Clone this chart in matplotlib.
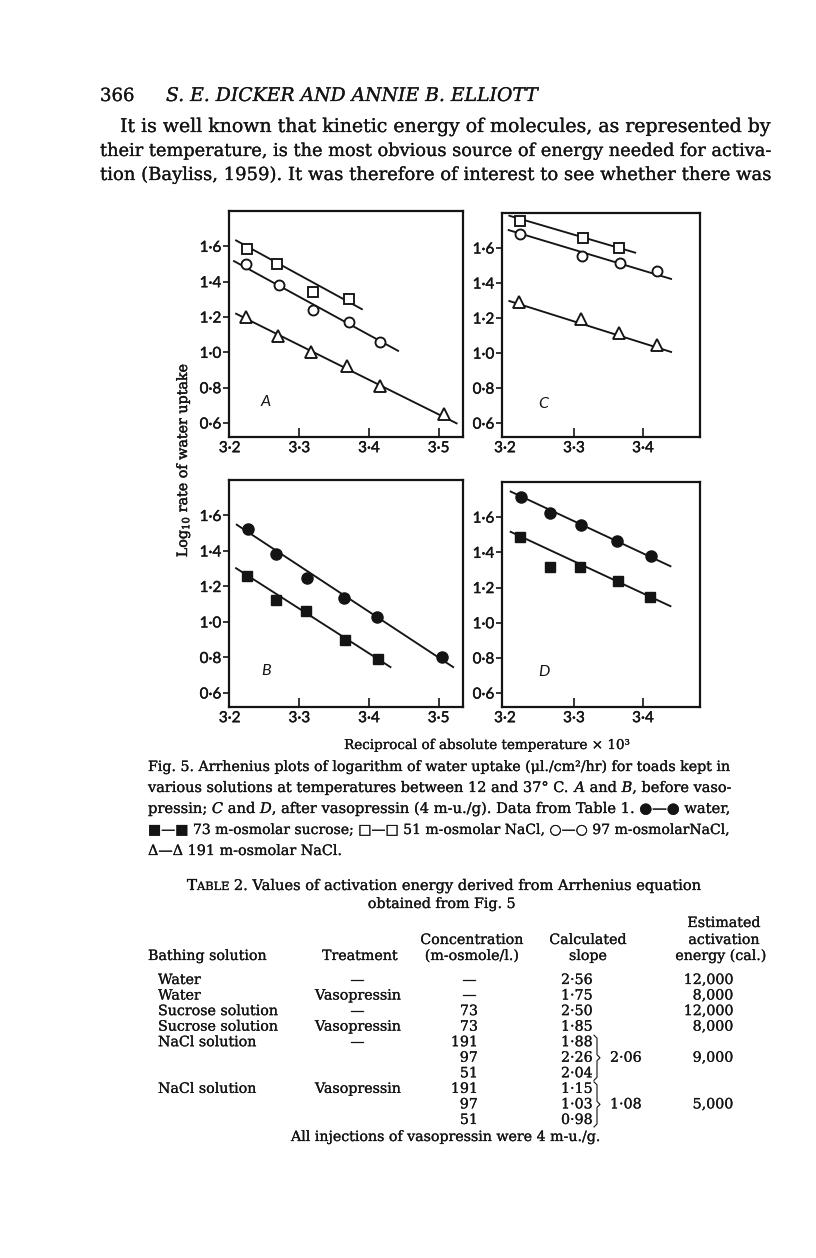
import matplotlib
matplotlib.use('Agg')
import matplotlib.pyplot as plt
import matplotlib.patheffects as pe
from matplotlib.ticker import FixedLocator, FixedFormatter
from matplotlib.lines import Line2D

W, H = 816, 1258
plt.rcParams['mathtext.fontset'] = 'custom'
plt.rcParams['mathtext.rm'] = 'DejaVu Serif'
plt.rcParams['mathtext.it'] = 'DejaVu Serif:italic'
SERIF = ['DejaVu Serif', 'DejaVu Sans']
SANS = ['Lato', 'DejaVu Sans']
INK = '#141414'
BOLDEN = [pe.withStroke(linewidth=0.18, foreground=INK)]
BOLDEN_T = [pe.withStroke(linewidth=0.3, foreground=INK)]

# ---------------- data ----------------
x_ticks_ab = [3.2, 3.3, 3.4, 3.5]
x_labels_ab = ['3·2', '3·3', '3·4', '3·5']
x_ticks_cd = [3.2, 3.3, 3.4]
x_labels_cd = ['3·2', '3·3', '3·4']
y_ticks = [0.6, 0.8, 1.0, 1.2, 1.4, 1.6]
y_labels = ['0·6', '0·8', '1·0', '1·2', '1·4', '1·6']

# Panel A (before vasopressin, NaCl)
a_nacl51_x = [3.225, 3.268, 3.319, 3.371]
a_nacl51_y = [1.585, 1.500, 1.344, 1.300]
a_nacl51_fit_x = [3.208, 3.391]
a_nacl51_fit_y = [1.636, 1.242]
a_nacl97_x = [3.224, 3.271, 3.319, 3.371, 3.416]
a_nacl97_y = [1.500, 1.383, 1.240, 1.170, 1.060]
a_nacl97_fit_x = [3.205, 3.443]
a_nacl97_fit_y = [1.519, 1.006]
a_nacl191_x = [3.224, 3.269, 3.317, 3.369, 3.416, 3.508]
a_nacl191_y = [1.200, 1.090, 1.000, 0.920, 0.810, 0.650]
a_nacl191_fit_x = [3.208, 3.527]
a_nacl191_fit_y = [1.221, 0.596]

# Panel C (after vasopressin, NaCl)
c_nacl51_x = [3.222, 3.313, 3.365]
c_nacl51_y = [1.757, 1.657, 1.600]
c_nacl51_fit_x = [3.205, 3.390]
c_nacl51_fit_y = [1.786, 1.572]
c_nacl97_x = [3.222, 3.312, 3.367, 3.421]
c_nacl97_y = [1.678, 1.556, 1.517, 1.467]
c_nacl97_fit_x = [3.204, 3.442]
c_nacl97_fit_y = [1.704, 1.422]
c_nacl191_x = [3.221, 3.310, 3.365, 3.421]
c_nacl191_y = [1.289, 1.194, 1.112, 1.044]
c_nacl191_fit_x = [3.205, 3.442]
c_nacl191_fit_y = [1.299, 1.005]

# Panel B (before vasopressin, water / sucrose)
b_water_x = [3.226, 3.267, 3.311, 3.364, 3.412, 3.505]
b_water_y = [1.525, 1.382, 1.250, 1.137, 1.029, 0.800]
b_water_fit_x = [3.209, 3.522]
b_water_fit_y = [1.551, 0.743]
b_sucr_x = [3.225, 3.267, 3.310, 3.365, 3.413]
b_sucr_y = [1.259, 1.124, 1.063, 0.901, 0.794]
b_sucr_fit_x = [3.208, 3.432]
b_sucr_fit_y = [1.306, 0.743]

# Panel D (after vasopressin, water / sucrose)
d_water_x = [3.223, 3.265, 3.310, 3.363, 3.412]
d_water_y = [1.713, 1.623, 1.553, 1.463, 1.379]
d_water_fit_x = [3.207, 3.441]
d_water_fit_y = [1.748, 1.319]
d_sucr_x = [3.222, 3.265, 3.308, 3.364, 3.410]
d_sucr_y = [1.487, 1.317, 1.317, 1.238, 1.148]
d_sucr_fit_x = [3.207, 3.441]
d_sucr_fit_y = [1.519, 1.092]

# Table 2
tab_bathing = ['Water', 'Water', 'Sucrose solution', 'Sucrose solution', 'NaCl solution',
               '', '', 'NaCl solution', '', '']
tab_treatment = ['—', 'Vasopressin', '—', 'Vasopressin', '—', '', '', 'Vasopressin', '', '']
tab_conc = ['—', '—', '73', '73', '191', '97', '51', '191', '97', '51']
tab_slope = ['2·56', '1·75', '2·50', '1·85', '1·88', '2·26', '2·04', '1·15', '1·03', '0·98']
tab_mean_slope = ['', '', '', '', '', '2·06', '', '', '1·08', '']
tab_energy = ['12,000', '8,000', '12,000', '8,000', '', '9,000', '', '', '5,000', '']

# ---------------- figure ----------------
fig = plt.figure(figsize=(W / 100, H / 100), dpi=100)
fig.patch.set_facecolor('white')
R = fig.canvas.get_renderer()


def fx(x):
    return x / W


def fy(y):
    return 1 - y / H


def width_of(s, size, style='normal', family=SERIF):
    t = fig.text(0, 0, s, fontsize=size, style=style, family=family)
    w = t.get_window_extent(renderer=R).width
    t.remove()
    return w


def line(x, ybase, segs, size, target_w=None, ha='left', family=SERIF):
    items = [(s.strip(), st, f, s.startswith(' '), s.endswith(' ')) for s, st, f in segs]

    def layout(sz):
        sp = width_of('n n', sz, family=family) - width_of('nn', sz, family=family)
        pos = []
        cx = 0.0
        for i, (s, st, f, lead, trail) in enumerate(items):
            if lead and i > 0:
                cx += sp
            pos.append(cx)
            cx += width_of(s, sz * f, st, family) if s else 0
            if trail:
                cx += sp
        return pos, cx

    pos, total = layout(size)
    if target_w is not None:
        size = size * target_w / total
        pos, total = layout(size)
    if ha == 'center':
        x0 = x - total / 2
    elif ha == 'right':
        x0 = x - total
    else:
        x0 = x
    for (s, st, f, _, _), p in zip(items, pos):
        if s:
            fig.text(fx(x0 + p), fy(ybase), s, fontsize=size * f, style=st, family=family,
                     va='baseline', ha='left', color=INK, path_effects=BOLDEN)
    return size


def simple(x0, x1, ybase, s, size=12, style='normal'):
    return line(x0, ybase, [(s, style, 1.0)], size, target_w=x1 - x0)


# ---- page header & paragraph ----
line(100, 101, [('366', 'normal', 1.0)], 13)
simple(166, 537, 101, 'S. E. DICKER AND ANNIE B. ELLIOTT', 13, 'italic')
para = ['It is well known that kinetic energy of molecules, as represented by',
        'their temperature, is the most obvious source of energy needed for activa-',
        'tion (Bayliss, 1959). It was therefore of interest to see whether there was']
para_x0 = [120, 100, 100]
for i, (s, x0) in enumerate(zip(para, para_x0)):
    simple(x0, 770, 132 + 24 * i, s, 13)

# ---- panels ----
def make_axes(l, t, r, b):
    return fig.add_axes([fx(l), fy(b), (r - l) / W, (b - t) / H])


OPEN = dict(mfc='white', mec=INK, mew=1.35, ls='none', zorder=3)
FILL = dict(mfc=INK, mec=INK, mew=1.0, ls='none', zorder=3)
LINE = dict(color=INK, lw=1.35, zorder=2, solid_capstyle='butt')


def style_axes(ax, xlim, xt, xl, letter, letter_xy):
    ax.set_xlim(*xlim)
    ax.set_ylim(0.521, 1.80)
    ax.xaxis.set_major_locator(FixedLocator(xt))
    ax.xaxis.set_major_formatter(FixedFormatter(xl))
    ax.yaxis.set_major_locator(FixedLocator(y_ticks))
    ax.yaxis.set_major_formatter(FixedFormatter(y_labels))
    ax.tick_params(axis='x', direction='in', length=6.5, width=1.2, pad=3.0,
                   labelsize=11, colors=INK)
    ax.tick_params(axis='y', direction='out', length=4.3, width=1.2, pad=1.2,
                   labelsize=11, colors=INK)
    for lab in ax.get_xticklabels() + ax.get_yticklabels():
        lab.set_family(SANS)
        lab.set_path_effects(BOLDEN_T)
    for sp in ax.spines.values():
        sp.set_linewidth(1.6)
        sp.set_color(INK)
    ax.xaxis.get_major_ticks()[0].tick1line.set_visible(False)
    ax.text(letter_xy[0], letter_xy[1], letter, style='italic', family=SANS,
            fontsize=11.5, ha='center', va='center', color=INK)


axA = make_axes(229, 211, 463, 437)
axA.plot(a_nacl51_fit_x, a_nacl51_fit_y, **LINE)
axA.plot(a_nacl97_fit_x, a_nacl97_fit_y, **LINE)
axA.plot(a_nacl191_fit_x, a_nacl191_fit_y, **LINE)
axA.plot(a_nacl51_x, a_nacl51_y, marker='s', ms=6.8, **OPEN)
axA.plot(a_nacl97_x, a_nacl97_y, marker='o', ms=7.2, **OPEN)
axA.plot(a_nacl191_x, a_nacl191_y, marker='^', ms=8.0, **OPEN)
style_axes(axA, (3.199, 3.535), x_ticks_ab, x_labels_ab, 'A', (3.251, 0.72))

axC = make_axes(502, 213, 700, 437)
axC.plot(c_nacl51_fit_x, c_nacl51_fit_y, **LINE)
axC.plot(c_nacl97_fit_x, c_nacl97_fit_y, **LINE)
axC.plot(c_nacl191_fit_x, c_nacl191_fit_y, **LINE)
axC.plot(c_nacl51_x, c_nacl51_y, marker='s', ms=6.8, **OPEN)
axC.plot(c_nacl97_x, c_nacl97_y, marker='o', ms=7.2, **OPEN)
axC.plot(c_nacl191_x, c_nacl191_y, marker='^', ms=8.0, **OPEN)
style_axes(axC, (3.1957, 3.4826), x_ticks_cd, x_labels_cd, 'C', (3.256, 0.711))

axB = make_axes(229, 480, 463, 707)
axB.plot(b_water_fit_x, b_water_fit_y, **LINE)
axB.plot(b_sucr_fit_x, b_sucr_fit_y, **LINE)
axB.plot(b_water_x, b_water_y, marker='o', ms=8.0, **FILL)
axB.plot(b_sucr_x, b_sucr_y, marker='s', ms=7.2, **FILL)
style_axes(axB, (3.199, 3.535), x_ticks_ab, x_labels_ab, 'B', (3.252, 0.722))

axD = make_axes(502, 482, 700, 707)
axD.plot(d_water_fit_x, d_water_fit_y, **LINE)
axD.plot(d_sucr_fit_x, d_sucr_fit_y, **LINE)
axD.plot(d_water_x, d_water_y, marker='o', ms=8.0, **FILL)
axD.plot(d_sucr_x, d_sucr_y, marker='s', ms=7.2, **FILL)
style_axes(axD, (3.1957, 3.4826), x_ticks_cd, x_labels_cd, 'D', (3.257, 0.722))

# shared axis labels
yl = fig.text(fx(183), fy(460), r'Log$_{10}$ rate of water uptake', rotation=90,
              ha='center', va='center', fontsize=11, family=SERIF, color=INK,
              path_effects=BOLDEN_T)
h = yl.get_window_extent(renderer=R).height
yl.set_fontsize(11 * 194 / h)
line(487, 749, [('Reciprocal of absolute temperature × 10³', 'normal', 1.0)], 11,
     target_w=285, ha='center')

# ---- caption ----
cap = [
    [('Fig. 5. Arrhenius plots of logarithm of water uptake (μl./cm²/hr) for toads kept in', 'normal', 1.0)],
    [('various solutions at temperatures between 12 and 37° C. ', 'normal', 1.0), ('A', 'italic', 1.0),
     (' and ', 'normal', 1.0), ('B', 'italic', 1.0), (', before vaso-', 'normal', 1.0)],
    [('pressin; ', 'normal', 1.0), ('C', 'italic', 1.0), (' and ', 'normal', 1.0), ('D', 'italic', 1.0),
     (', after vasopressin (4 m-u./g). Data from Table 1. ●—● water,', 'normal', 1.0)],
    [('■—■ 73 m-osmolar sucrose; □—□ 51 m-osmolar NaCl, ○—○ 97 m-osmolarNaCl,', 'normal', 1.0)],
]
sizes = []
for i, segs in enumerate(cap):
    sizes.append(line(148, 771 + 21 * i, segs, 10, target_w=731 - 148))
line(148, 771 + 21 * 4, [('Δ—Δ 191 m-osmolar NaCl.', 'normal', 1.0)], sum(sizes) / len(sizes))

# ---- table ----
line(445, 890, [('T', 'normal', 1.0), ('ABLE', 'normal', 0.78),
                (' 2. Values of activation energy derived from Arrhenius equation', 'normal', 1.0)],
     10, target_w=703 - 187, ha='center')
ts = simple(148, 267, 960, 'Bathing solution', 10)
line(442, 908, [('obtained from Fig. 5', 'normal', 1.0)], ts, ha='center')
hdr = [(724, 927, 'Estimated'), (472, 944, 'Concentration'), (588, 944, 'Calculated'),
       (724, 944, 'activation'), (360, 960, 'Treatment'), (472, 960, '(m-osmole/l.)'),
       (588, 960, 'slope'), (721, 960, 'energy (cal.)')]
for x, y, s in hdr:
    line(x, y, [(s, 'normal', 1.0)], ts, ha='center')

for i in range(len(tab_slope)):
    yb = 984 + 15.55 * i
    if tab_bathing[i]:
        line(158, yb, [(tab_bathing[i], 'normal', 1.0)], ts)
    if tab_treatment[i]:
        line(358, yb, [(tab_treatment[i], 'normal', 1.0)], ts, ha='center')
    if tab_conc[i] == '—':
        line(470, yb, [('—', 'normal', 1.0)], ts, ha='center')
    else:
        line(478, yb, [(tab_conc[i], 'normal', 1.0)], ts, ha='right')
    line(561, yb, [(tab_slope[i], 'normal', 1.0)], ts)
    if tab_mean_slope[i]:
        line(610, yb, [(tab_mean_slope[i], 'normal', 1.0)], ts)
    if tab_energy[i]:
        line(734, yb, [(tab_energy[i], 'normal', 1.0)], ts, ha='right')

# braces grouping the NaCl slopes
for top in (4, 7):
    y0 = 984 + 15.55 * top - 11
    y1 = 984 + 15.55 * (top + 2) + 3
    ym = (y0 + y1) / 2
    xs = [594, 597, 597, 600, 597, 597, 594]
    ys = [y0, y0 + 3, ym - 3, ym, ym + 3, y1 - 3, y1]
    fig.add_artist(Line2D([fx(v) for v in xs], [fy(v) for v in ys], color=INK, lw=0.8))

simple(291, 601, 1141, 'All injections of vasopressin were 4 m-u./g.', ts)

fig.savefig('out.png', dpi=100, facecolor='white')
